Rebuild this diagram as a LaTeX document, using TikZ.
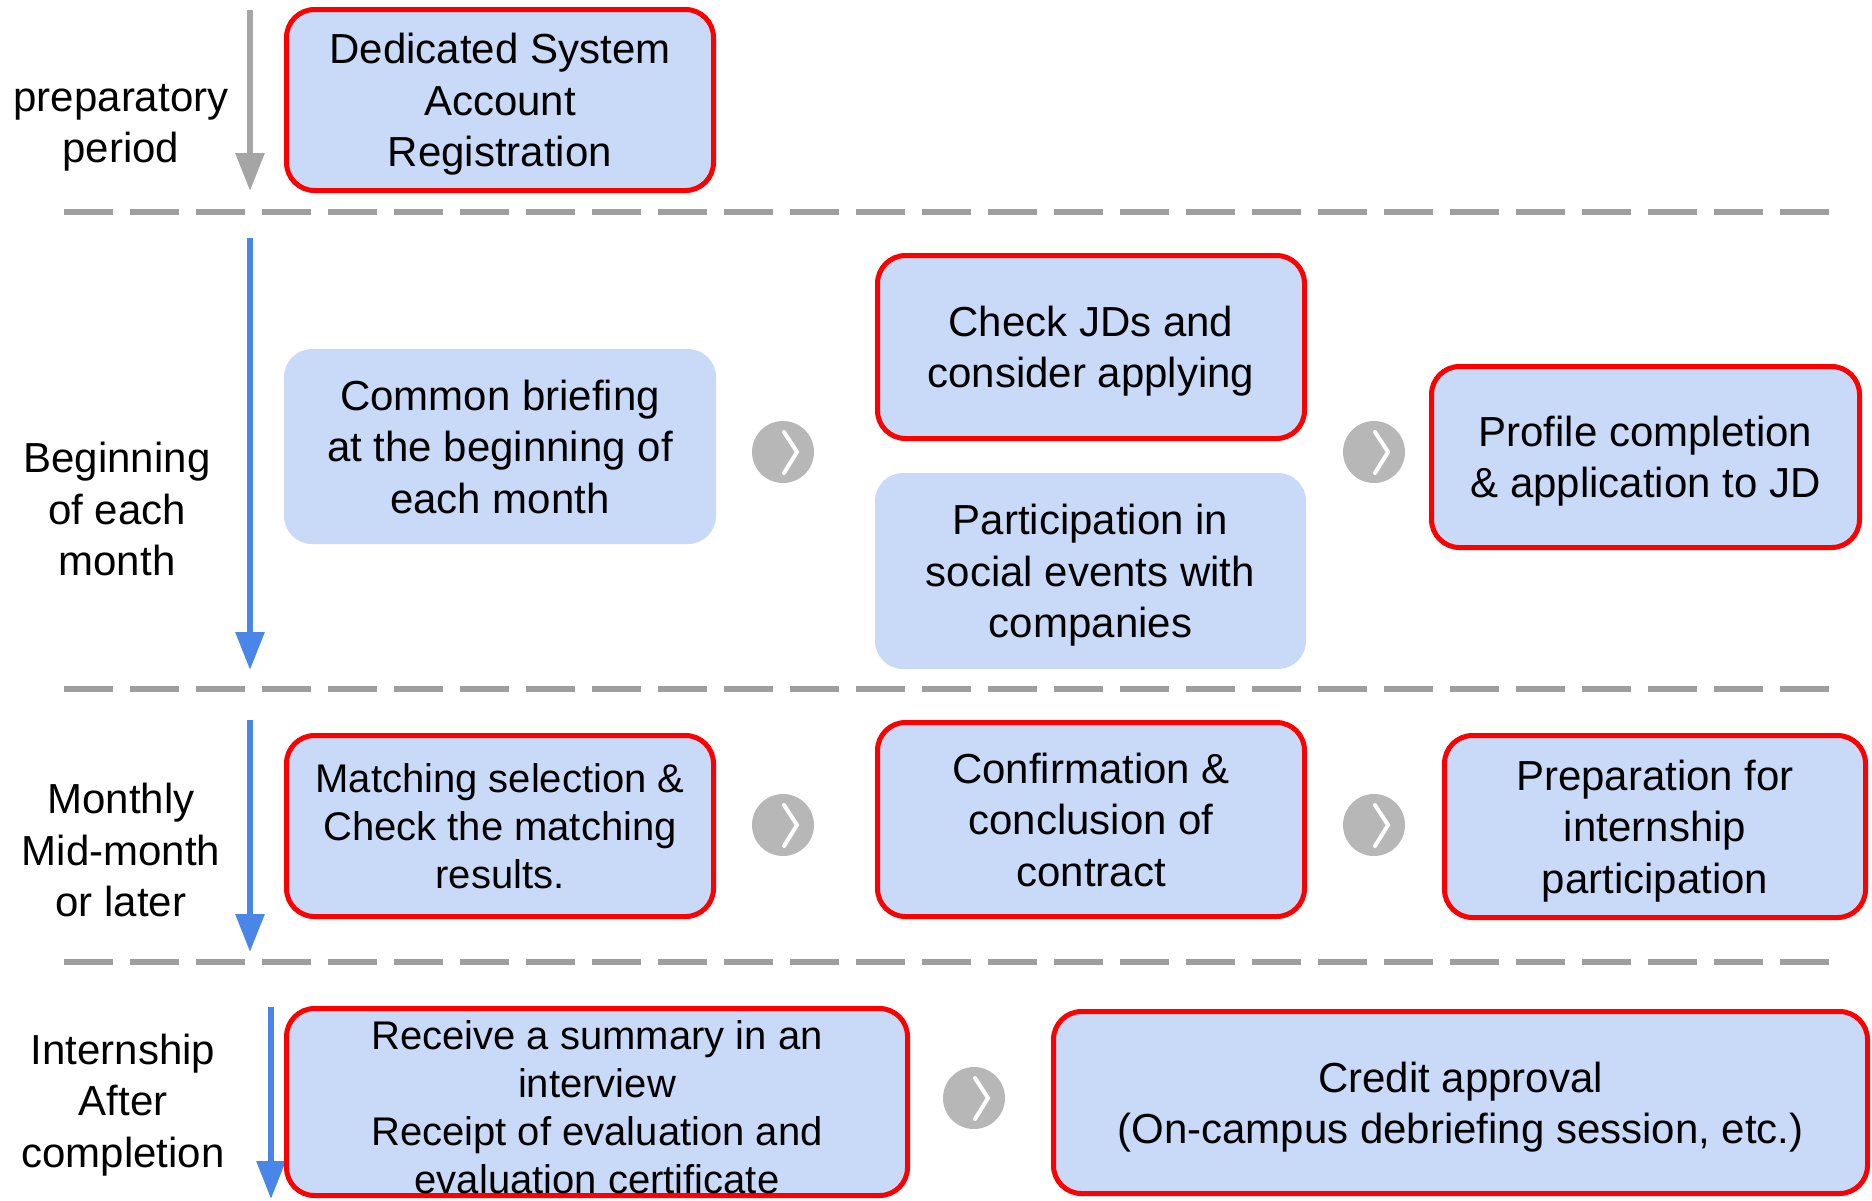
\documentclass[tikz,border=0pt]{standalone}
\usepackage{fontspec}
\setmainfont{Liberation Sans}
\usetikzlibrary{arrows.meta,calc}
\definecolor{boxfill}{HTML}{C9DAF8}
\definecolor{boxred}{HTML}{FF0000}
\definecolor{circgray}{HTML}{B7B7B7}
\definecolor{flowblue}{HTML}{4A86E8}
\definecolor{flowgray}{HTML}{A5A5A5}
\definecolor{sepgray}{HTML}{9E9E9E}
\begin{document}
\begin{tikzpicture}[x=0.5pt,y=-0.5pt,
  stepbox/.style={rounded corners=14pt, fill=boxfill, align=center, inner sep=0pt,
    text depth=0pt, font=\fontsize{21}{25.7}\selectfont},
  keybox/.style={stepbox, draw=boxred, line width=2.5pt},
  smalltext/.style={font=\fontsize{20}{24}\selectfont},
  go/.style={circle, fill=circgray, minimum size=31pt, inner sep=0pt},
  chev/.style={white, line width=2pt, line cap=round},
  phase/.style={align=center, font=\fontsize{21}{25.7}\selectfont},
  sep/.style={draw=sepgray, line width=3pt, dash pattern=on 24.5pt off 8.5pt},
  flow/.style={line width=3pt, -{Triangle[length=19pt,width=14pt]}},
]
\useasboundingbox (0,0) rectangle (1872,1200);

% phase separators
\draw[sep] (64,212) -- (1830,212);
\draw[sep] (64,689) -- (1830,689);
\draw[sep] (64,962) -- (1830,962);

% phase labels
\node[phase] (p1) at (121,128) {preparatory\\period};
\node[phase] (p2) at (117,509) {Beginning\\of each\\month};
\node[phase] (p3) at (121,850) {Monthly\\Mid-month\\or later};
\node[phase] (p4) at (123,1105) {Internship\\After\\completion};

% time arrows
\coordinate (t1s) at (250,10);   \coordinate (t1e) at (250,191);
\coordinate (t2s) at (250,238);  \coordinate (t2e) at (250,670);
\coordinate (t3s) at (250,720);  \coordinate (t3e) at (250,952);
\coordinate (t4s) at (271,1007); \coordinate (t4e) at (271,1199);
\draw[flow, flowgray] (t1s) -- (t1e);
\draw[flow, flowblue] (t2s) -- (t2e);
\draw[flow, flowblue] (t3s) -- (t3e);
\draw[flow, flowblue] (t4s) -- (t4e);

% steps
\node[keybox, minimum width=213.5pt, minimum height=90.5pt] (reg) at (500,100)
  {Dedicated System\\Account\\Registration};
\node[stepbox, minimum width=216pt, minimum height=97.5pt] (brief) at (500,446.5)
  {Common briefing\\at the beginning of\\each month};
\node[keybox, minimum width=213.5pt, minimum height=91.5pt] (jd) at (1091,347)
  {Check JDs and\\consider applying};
\node[stepbox, minimum width=215.5pt, minimum height=98pt] (social) at (1090.5,571)
  {Participation in\\social events with\\companies};
\node[keybox, minimum width=214pt, minimum height=90.5pt] (apply) at (1645.5,457)
  {Profile completion\\\& application to JD};
\node[keybox, smalltext, minimum width=213.5pt, minimum height=90.5pt] (match) at (500,826)
  {Matching selection \&\\Check the matching\\results.};
\node[keybox, minimum width=213.5pt, minimum height=97pt] (contract) at (1091,819.5)
  {Confirmation \&\\conclusion of\\contract};
\node[keybox, minimum width=210.5pt, minimum height=91pt] (prep) at (1655,826.5)
  {Preparation for\\internship\\participation};
\node[keybox, smalltext, text height=91.5pt, minimum width=310.5pt, minimum height=93.5pt] (review) at (597,1102)
  {Receive a summary in an\\interview\\Receipt of evaluation and\\evaluation certificate};
\node[keybox, minimum width=407pt, minimum height=91pt] (credit) at (1460.5,1102.5)
  {Credit approval\\(On-campus debriefing session, etc.)};

% step markers
\node[go] (c1) at (783,452) {};
\node[go] (c2) at (1374,452) {};
\node[go] (c3) at (783,825) {};
\node[go] (c4) at (1374,825) {};
\node[go] (c5) at (974,1098) {};
\foreach \c in {c1,c2,c3,c4,c5}
  \draw[chev] ($(\c)+(1,-20)$) -- ($(\c)+(14,0)$) -- ($(\c)+(1,21)$);
\end{tikzpicture}
\end{document}
